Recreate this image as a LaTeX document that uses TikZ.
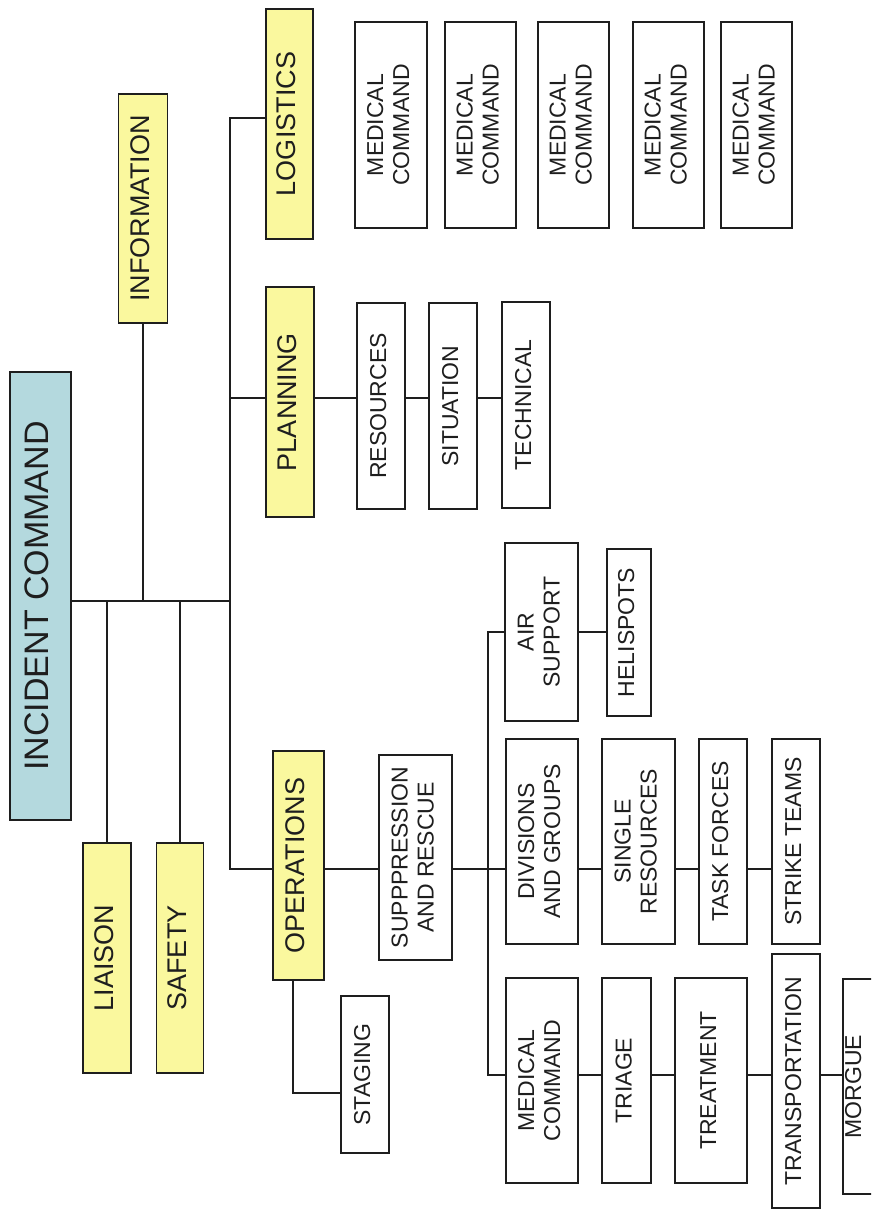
\documentclass[tikz,border=0pt]{standalone}
\usepackage{fontspec}
\setmainfont{Liberation Sans}
\definecolor{titleyellow}{RGB}{250,248,158}
\definecolor{icblue}{RGB}{180,217,222}
\definecolor{ink}{RGB}{30,30,30}
\newcommand{\rtx}[1]{\rotatebox{90}{\begin{tabular}{@{}c@{}}#1\end{tabular}}}
\tikzset{
  bx/.style={draw=ink, line width=1.5pt, inner sep=0pt, rectangle, text=ink},
  wb/.style={bx, fill=white, font=\fontsize{23}{26}\selectfont},
  yb/.style={bx, fill=titleyellow, font=\fontsize{27}{30}\selectfont},
  icb/.style={bx, fill=icblue, font=\fontsize{34}{38}\selectfont},
  ln/.style={draw=ink, line width=1.5pt}
}
\begin{document}
\begin{tikzpicture}[x=1pt, y=-1pt]
\useasboundingbox (0,0) rectangle (871,1210);
\clip (0,0) rectangle (871,1210);
\fill[white] (0,0) rectangle (871,1210);

% top level
\node[icb, minimum width=61pt, minimum height=448pt] (ic) at (40.5,596) {\rtx{INCIDENT COMMAND}};
\node[yb, minimum width=49pt, minimum height=229pt] (info) at (143,208.5) {\rtx{INFORMATION}};
\node[yb, minimum width=48pt, minimum height=230pt] (liaison) at (107,958) {\rtx{LIAISON}};
\node[yb, minimum width=47pt, minimum height=230pt] (safety) at (180,958) {\rtx{SAFETY}};
\node[yb, minimum width=47pt, minimum height=230pt] (log) at (289.5,124) {\rtx{LOGISTICS}};
\node[yb, minimum width=48pt, minimum height=230pt] (plan) at (290,402) {\rtx{PLANNING}};
\node[yb, minimum width=51pt, minimum height=229pt] (ops) at (298.5,865.5) {\rtx{OPERATIONS}};

% planning
\node[wb, minimum width=48pt, minimum height=206pt] (res) at (381,406) {\rtx{RESOURCES}};
\node[wb, minimum width=48pt, minimum height=206pt] (sit) at (453,406) {\rtx{SITUATION}};
\node[wb, minimum width=48pt, minimum height=206pt] (tech) at (526,405) {\rtx{TECHNICAL}};

% logistics row
\node[wb, minimum width=72pt, minimum height=206pt] (mca) at (391,125) {\rtx{MEDICAL\\COMMAND}};
\node[wb, minimum width=71pt, minimum height=206pt] (mcb) at (480.5,125) {\rtx{MEDICAL\\COMMAND}};
\node[wb, minimum width=71pt, minimum height=206pt] (mcc) at (573.5,125) {\rtx{MEDICAL\\COMMAND}};
\node[wb, minimum width=71pt, minimum height=206pt] (mcd) at (668.5,125) {\rtx{MEDICAL\\COMMAND}};
\node[wb, minimum width=71pt, minimum height=206pt] (mce) at (756.5,125) {\rtx{MEDICAL\\COMMAND}};

% operations
\node[wb, minimum width=73pt, minimum height=205pt] (supp) at (415.5,857.5) {\rtx{SUPPPRESSION\\AND RESCUE}};
\node[wb, minimum width=48pt, minimum height=157pt] (stag) at (365,1074.5) {\rtx{STAGING}};
\node[wb, minimum width=73pt, minimum height=178pt] (air) at (541.5,632) {\rtx{AIR\\SUPPORT}};
\node[wb, minimum width=44pt, minimum height=167pt] (heli) at (629,632.5) {\rtx{HELISPOTS}};
\node[wb, minimum width=72pt, minimum height=205pt] (div) at (542,841.5) {\rtx{DIVISIONS\\AND GROUPS}};
\node[wb, minimum width=73pt, minimum height=205pt] (single) at (638.5,841.5) {\rtx{SINGLE\\RESOURCES}};
\node[wb, minimum width=48pt, minimum height=205pt] (task) at (723,841.5) {\rtx{TASK FORCES}};
\node[wb, minimum width=48pt, minimum height=205pt] (strike) at (796,841.5) {\rtx{STRIKE TEAMS}};
\node[wb, minimum width=72pt, minimum height=205pt] (med) at (542,1080.5) {\rtx{MEDICAL\\COMMAND}};
\node[wb, minimum width=49pt, minimum height=205pt] (triage) at (626.5,1080.5) {\rtx{TRIAGE}};
\node[wb, minimum width=72pt, minimum height=205pt] (treat) at (711,1080.5) {\rtx{TREATMENT}};
\node[wb, minimum width=48pt, minimum height=254pt] (transp) at (796,1081) {\rtx{TRANSPORTATION}};
\node[wb, minimum width=48pt, minimum height=215pt] (morgue) at (867,1086.5) {\rtx{MORGUE}\hspace*{22pt}};

% junction coordinates
\coordinate (bus) at (230,601);
\coordinate (rLog) at (0,118);
\coordinate (rPlan) at (0,398);
\coordinate (rOps) at (0,869);
\coordinate (jA) at (488,632);
\coordinate (jM) at (488,1075);
\coordinate (jS) at (293,1093);

% connectors
\draw[ln] (ic.east |- bus) -- (bus);
\draw[ln] (liaison.north) -- (liaison.north |- bus);
\draw[ln] (safety.north) -- (safety.north |- bus);
\draw[ln] (info.south) -- (info.south |- bus);
\draw[ln] (log.west |- rLog) -- (bus |- rLog) -- (bus |- rOps) -- (ops.west |- rOps);
\draw[ln] (plan.west |- rPlan) -- (bus |- rPlan);
\draw[ln] (plan.east |- rPlan) -- (res.west |- rPlan);
\draw[ln] (res.east |- rPlan) -- (sit.west |- rPlan);
\draw[ln] (sit.east |- rPlan) -- (tech.west |- rPlan);

\draw[ln] (ops.east |- rOps) -- (supp.west |- rOps);
\draw[ln] (supp.east |- rOps) -- (div.west |- rOps);
\draw[ln] (div.east |- rOps) -- (single.west |- rOps);
\draw[ln] (single.east |- rOps) -- (task.west |- rOps);
\draw[ln] (task.east |- rOps) -- (strike.west |- rOps);

\draw[ln] (ops.south -| jS) -- (jS) -- (stag.west |- jS);
\draw[ln] (air.west |- jA) -- (jA) -- (jM) -- (med.west |- jM);
\draw[ln] (air.east |- jA) -- (heli.west |- jA);

\draw[ln] (med.east |- jM) -- (triage.west |- jM);
\draw[ln] (triage.east |- jM) -- (treat.west |- jM);
\draw[ln] (treat.east |- jM) -- (transp.west |- jM);
\draw[ln] (transp.east |- jM) -- (morgue.west |- jM);
\end{tikzpicture}
\end{document}
